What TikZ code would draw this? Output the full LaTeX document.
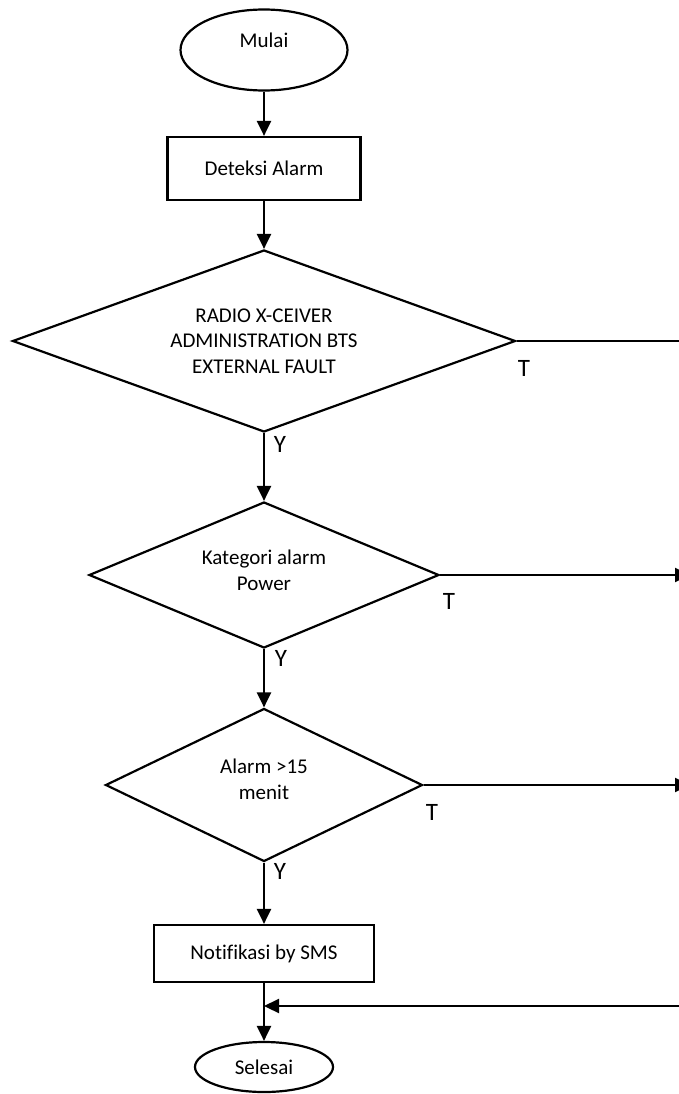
\documentclass[tikz,border=0pt]{standalone}
\usepackage{fontspec}
\setmainfont[Ligatures=NoCommon]{Carlito}
\usetikzlibrary{shapes.geometric,arrows.meta}
\begin{document}
\begin{tikzpicture}[x=1pt,y=-1pt,
  line width=2.2pt,
  every node/.style={font=\fontsize{21}{25.5}\selectfont, inner sep=0pt},
  terminal/.style={draw, ellipse},
  process/.style={draw, rectangle},
  decision/.style={draw, diamond, align=center},
  flow/.style={-{Triangle[length=15pt,width=14pt]}},
  branch/.style={font=\fontsize{25}{30}\selectfont}
]
\useasboundingbox (0,0) rectangle (679,1094);
\clip (0,0) rectangle (679,1094);

% main column of the flow
\node[terminal, minimum width=167pt, minimum height=81pt, text depth=20pt] (start) at (264,50) {Mulai};
\node[process, minimum width=193pt, minimum height=63pt] (detect) at (264,168.5) {Deteksi Alarm};
\node[decision, minimum width=503pt, minimum height=182pt, aspect=2.76] (q1) at (264,341)
  {RADIO X-CEIVER\\ADMINISTRATION BTS\\EXTERNAL FAULT};
\node[decision, minimum width=350pt, minimum height=146pt, aspect=2.4, text depth=10pt] (q2) at (264,575)
  {Kategori alarm\\Power};
\node[decision, minimum width=317pt, minimum height=153pt, aspect=2.07, text depth=12pt] (q3) at (264,785)
  {Alarm >15\\menit};
\node[process, minimum width=220pt, minimum height=57pt] (notify) at (264,953.5) {Notifikasi by SMS};
\node[terminal, minimum width=138pt, minimum height=50pt] (stop) at (264,1067) {Selesai};

\draw[flow] (start) -- (detect);
\draw[flow] (detect) -- (q1);
\draw[flow] (q1) -- (q2);
\draw[flow] (q2) -- (q3);
\draw[flow] (q3) -- (notify);
\draw[flow] (notify) -- (stop);

% "T" branches leaving to the right edge
\coordinate (out1) at (682,341);
\coordinate (out2) at (690,575);
\coordinate (out3) at (690,785);
\coordinate (back) at (682,1006);
\draw (q1.east) -- (out1);
\draw[flow] (q2.east) -- (out2);
\draw[flow] (q3.east) -- (out3);
\draw[flow] (back) -- (notify.south |- back);

% branch labels
\node[branch] (y1) at (280,444) {Y};
\node[branch] (t1) at (524,368) {T};
\node[branch] (y2) at (281,658) {Y};
\node[branch] (t2) at (449,601) {T};
\node[branch] (y3) at (280,871) {Y};
\node[branch] (t3) at (432,812) {T};
\end{tikzpicture}
\end{document}
